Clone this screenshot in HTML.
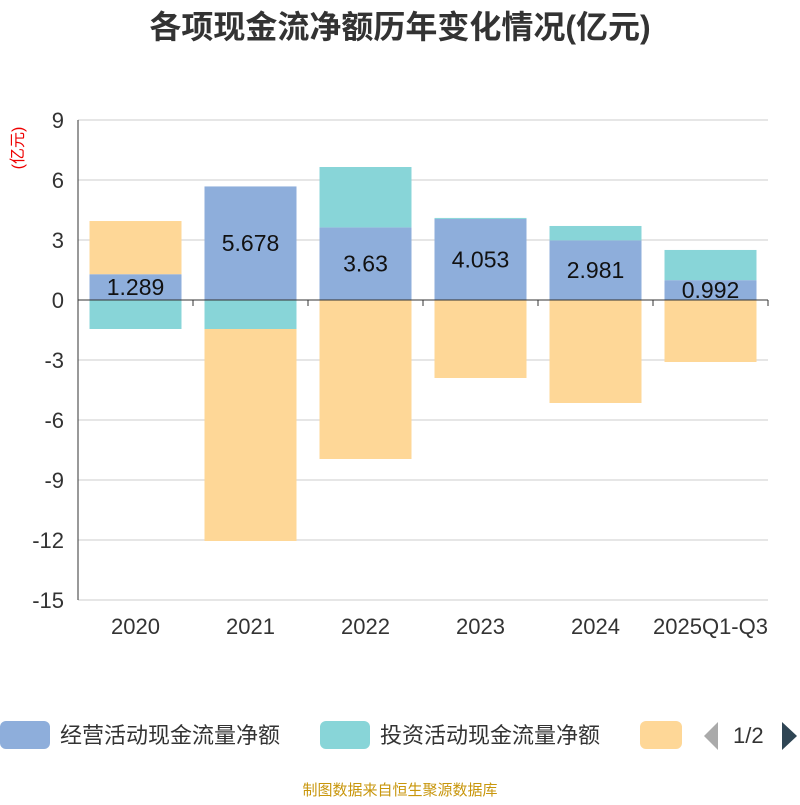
<!DOCTYPE html>
<html><head><meta charset="utf-8"><style>
body{margin:0;background:#fff;font-family:"Liberation Sans","Noto Sans CJK SC",sans-serif;}
</style></head><body>
<svg width="800" height="800" xmlns="http://www.w3.org/2000/svg" id="chart">
<text x="400" y="38" text-anchor="middle" font-size="32" font-weight="bold" fill="#333" font-family="Liberation Sans,Noto Sans CJK SC,sans-serif">各项现金流净额历年变化情况(亿元)</text>
<text transform="translate(23,148) rotate(-90)" text-anchor="middle" font-size="16" fill="#e00" font-family="Liberation Sans,Noto Sans CJK SC,sans-serif">(亿元)</text>
<g id="grid"></g><g id="bars"></g><g id="labels"></g><g id="axes"></g>
<g font-family="Liberation Sans,Noto Sans CJK SC,sans-serif" font-size="22" fill="#333">
<rect x="0" y="721" width="50" height="28" rx="6" fill="#8eaedb"/>
<text x="60" y="743">经营活动现金流量净额</text>
<rect x="320" y="721" width="50" height="28" rx="6" fill="#88d5d8"/>
<text x="380" y="743">投资活动现金流量净额</text>
<rect x="640" y="721" width="42" height="28" rx="6" fill="#fed797"/>
<polygon points="718,722 718,750 704,736" fill="#aaa"/>
<text x="733" y="743">1/2</text>
<polygon points="782,722 782,750 797,736" fill="#2f4554"/>
</g>
<text x="400" y="795" text-anchor="middle" font-size="15" fill="#c8960c" font-family="Liberation Sans,Noto Sans CJK SC,sans-serif">制图数据来自恒生聚源数据库</text>
</svg>
<script>
const categories=["2020","2021","2022","2023","2024","2025Q1-Q3"];
const operating=[1.289,5.678,3.63,4.053,2.981,0.992];
const investing=[-1.45,-1.45,3.02,0.05,0.72,1.51];
const financing=[2.66,-10.6,-7.95,-3.9,-5.15,-3.1];
const yTicks=[9,6,3,0,-3,-6,-9,-12,-15];
const NS="http://www.w3.org/2000/svg";
const x0=78,x1=768,yMin=-15,yMax=9,yTop=120,yBot=600;
const y=v=>yTop+(yMax-v)/(yMax-yMin)*(yBot-yTop);
const bw=(x1-x0)/categories.length;
function mk(t,a,p){const e=document.createElementNS(NS,t);for(const k in a)e.setAttribute(k,a[k]);document.getElementById(p).appendChild(e);return e;}
yTicks.forEach(v=>{
 const l=mk("line",{x1:x0,x2:x1,y1:y(v),y2:y(v),stroke:"#ccc"},"grid");
 
 
 const t=mk("text",{x:x0-14,y:y(v)+8,"text-anchor":"end","font-size":22,fill:"#333","font-family":"Liberation Sans,sans-serif"},"axes");
 t.textContent=v;
 
 
});
const ya=mk("line",{x1:x0,x2:x0,y1:yTop,y2:yBot,stroke:"#333"},"axes");


const xa=mk("line",{x1:x0,x2:x1,y1:y(0),y2:y(0),stroke:"#333"},"axes");


const series=[[operating,"#8eaedb","operating"],[investing,"#88d5d8","investing"],[financing,"#fed797","financing"]];
categories.forEach((c,i)=>{
 const tk=mk("line",{x1:x0+bw*(i+1),x2:x0+bw*(i+1),y1:y(0),y2:y(0)+6,stroke:"#333"},"axes");
 
 
 const t=mk("text",{x:x0+bw*(i+0.5),y:634,"text-anchor":"middle","font-size":22,fill:"#333","font-family":"Liberation Sans,sans-serif"},"axes");
 t.textContent=c;
 
 
 let pos=0,neg=0;
 const bx=x0+bw*i+bw*0.1,w=bw*0.8;
 series.forEach(([arr,col,nm])=>{
  const v=arr[i];let a,b;
  if(v>=0){a=pos;b=pos+v;pos=b;}else{a=neg;b=neg+v;neg=b;}
  const r=mk("rect",{x:bx,y:y(Math.max(a,b)),width:w,height:Math.abs(y(a)-y(b)),fill:col},"bars");
  
  
 });
 const lt=mk("text",{x:x0+bw*(i+0.5),y:y(operating[i]/2)+8,"text-anchor":"middle","font-size":23,fill:"#111","font-family":"Liberation Sans,sans-serif"},"labels");
 lt.textContent=operating[i];
 
 
});
</script>
</body></html>
